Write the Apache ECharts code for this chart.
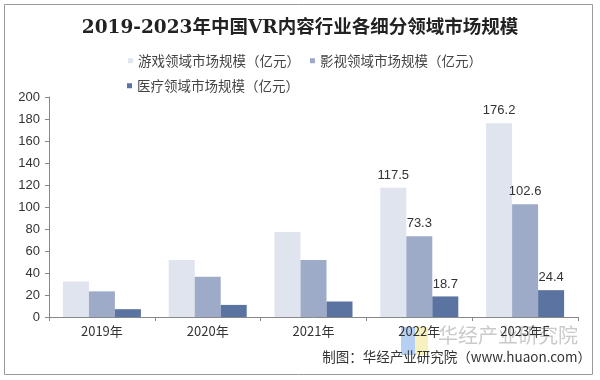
<!DOCTYPE html>
<html>
<head>
<meta charset="utf-8">
<script src="https://cdn.jsdelivr.net/npm/echarts@6/dist/echarts.min.js"></script>
<style>html,body{margin:0;padding:0;background:#fff;}#c{width:600px;height:380px;}</style>
</head>
<body>
<div id="c"></div>
<script>
var categories = ['2019年', '2020年', '2021年', '2022年', '2023年E'];
var seriesNames = ['游戏领域市场规模（亿元）', '影视领域市场规模（亿元）', '医疗领域市场规模（亿元）'];
var gameValues = [32.3, 51.8, 77.2, 117.5, 176.2];
var filmValues = [23.3, 36.6, 51.8, 73.3, 102.6];
var medValues = [7.1, 11.0, 14.1, 18.7, 24.4];
var colors = ['#dfe4ef', '#9dabc8', '#5b73a0'];
var titleText = '2019-2023年中国VR内容行业各细分领域市场规模';
var sourceText = '制图：华经产业研究院（www.huaon.com）';
var watermarkText = '华经产业研究院';

var cjk = '"Noto Sans CJK SC", "Liberation Sans", sans-serif';
var chart = echarts.init(document.getElementById('c'));
function mk(i, vals) {
  return {
    name: seriesNames[i], type: 'bar', data: vals, barWidth: 26, barGap: '0%',
    itemStyle: { color: colors[i] },
    label: {
      show: true, position: 'top', distance: 6, color: '#333', fontSize: 13,
      fontFamily: '"Liberation Sans", Arial, sans-serif',
      formatter: function (p) { return p.dataIndex >= 3 ? String(p.value) : ''; }
    }
  };
}
chart.setOption({
  backgroundColor: '#fff',
  animation: false,
  title: {
    text: titleText, left: 'center', top: 14,
    textStyle: { fontSize: 18.5, fontWeight: 'bold', color: '#222',
      fontFamily: '"DejaVu Serif", "Liberation Serif", "Noto Sans CJK SC", serif' }
  },
  legend: [{
    data: [seriesNames[0], seriesNames[1]], left: 123, top: 49, itemWidth: 5, itemHeight: 5,
    itemGap: 10, icon: 'rect', textStyle: { fontSize: 13.5, color: '#444', fontFamily: cjk }
  }, {
    data: [seriesNames[2]], left: 122, top: 74, itemWidth: 5, itemHeight: 5,
    icon: 'rect', textStyle: { fontSize: 13.5, color: '#444', fontFamily: cjk }
  }],
  grid: { left: 49, right: 22, top: 97, bottom: 63 },
  xAxis: {
    type: 'category', data: categories,
    axisLine: { lineStyle: { color: '#888' } },
    axisTick: { show: true, length: 4, lineStyle: { color: '#888' } },
    axisLabel: { fontSize: 13, color: '#333', margin: 8, fontFamily: cjk }
  },
  yAxis: {
    type: 'value', min: 0, max: 200, interval: 20,
    axisLine: { show: true, lineStyle: { color: '#888' } },
    axisTick: { show: true, length: 4, lineStyle: { color: '#888' } },
    splitLine: { show: false },
    axisLabel: { fontSize: 13, color: '#333', margin: 9, fontFamily: '"Liberation Sans", Arial, sans-serif' }
  },
  series: [mk(0, gameValues), mk(1, filmValues), mk(2, medValues)],
  graphic: [
    { type: 'rect', shape: { x: 4.5, y: 4.5, width: 588, height: 370 }, style: { fill: 'none', stroke: '#9a9a9a', lineWidth: 1 }, z: 100 },
    { type: 'rect', shape: { x: 401, y: 327, width: 14, height: 28 }, style: { fill: '#a9c8f2', opacity: 0.85 }, z: -10 },
    { type: 'rect', shape: { x: 415, y: 327, width: 13, height: 28 }, style: { fill: '#f6efb4', opacity: 0.85 }, z: -10 },
    { type: 'text', left: 438, top: 325, style: { text: watermarkText, fontSize: 20, fill: 'rgba(150,150,150,0.5)', fontFamily: cjk }, z: -10 },
    { type: 'text', right: 9, top: 350, style: { text: sourceText, fontSize: 13.5, fill: '#333', fontFamily: cjk }, z: 100 }
  ]
});
</script>
</body>
</html>
